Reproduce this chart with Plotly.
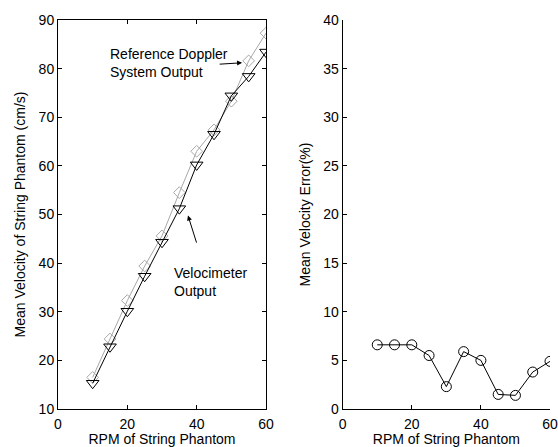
import plotly.graph_objects as go

rpm = [10, 15, 20, 25, 30, 35, 40, 45, 50, 55, 60]
velocimeter = [15.3, 22.8, 30.1, 37.3, 44.3, 51.2, 60.2, 66.5, 74.4, 78.4, 83.4]
reference = [16.5, 24.4, 32.3, 39.4, 45.6, 54.5, 63.0, 67.4, 73.3, 81.6, 87.3]
error_pct = [6.6, 6.6, 6.6, 5.5, 2.3, 5.9, 5.0, 1.5, 1.4, 3.8, 4.9]

FONT = "Liberation Sans, Arial, sans-serif"
FS = 14

fig = go.Figure()
fig.add_trace(go.Scatter(x=rpm, y=reference, mode="lines+markers",
                         line=dict(color="#a8a8a8", width=1),
                         marker=dict(symbol="diamond-open", size=9, color="#a8a8a8", line=dict(width=1)),
                         xaxis="x", yaxis="y", showlegend=False))
fig.add_trace(go.Scatter(x=rpm, y=velocimeter, mode="lines+markers",
                         line=dict(color="black", width=1),
                         marker=dict(symbol="triangle-down-open", size=11, color="black", line=dict(width=1)),
                         xaxis="x", yaxis="y", showlegend=False))
fig.add_trace(go.Scatter(x=rpm, y=error_pct, mode="lines+markers",
                         line=dict(color="black", width=1),
                         marker=dict(symbol="circle-open", size=10, color="black", line=dict(width=1)),
                         xaxis="x2", yaxis="y2", showlegend=False))

axis_common = dict(showgrid=False, zeroline=False, showline=True, linecolor="black", linewidth=1,
                   ticks="inside", ticklen=4, tickcolor="black", automargin=False,
                   tickfont=dict(family=FONT, size=FS, color="black"))

fig.update_layout(
    width=558, height=447,
    margin=dict(l=58, r=8, t=20, b=38),
    paper_bgcolor="white", plot_bgcolor="white",
    font=dict(family=FONT, size=FS, color="black"),
    xaxis=dict(domain=[0, 208 / 492], range=[0, 60], tickvals=[0, 20, 40, 60], mirror="allticks",
               ticklabelstandoff=2,
               title=dict(text="RPM of String Phantom", standoff=5, font=dict(size=FS)), anchor="y", **axis_common),
    yaxis=dict(range=[10, 90], tickvals=[10, 20, 30, 40, 50, 60, 70, 80, 90], mirror="allticks",
               title=dict(text="Mean Velocity of String Phantom (cm/s)", standoff=9, font=dict(size=FS)),
               anchor="x", **axis_common),
    xaxis2=dict(domain=[284.7 / 492, 1], range=[0, 60], tickvals=[0, 20, 40, 60],
                ticklabelstandoff=2,
                title=dict(text="RPM of String Phantom", standoff=5, font=dict(size=FS)), anchor="y2", **axis_common),
    yaxis2=dict(range=[0, 40], tickvals=[0, 5, 10, 15, 20, 25, 30, 35, 40],
                title=dict(text="Mean Velocity Error(%)", standoff=9, font=dict(size=FS)),
                anchor="x2", **axis_common),
)

annotations = [
    dict(x=14.4, y=81.1, xref="x", yref="y", text="Reference Doppler<br>System Output",
         showarrow=False, xanchor="left", yanchor="middle", align="left", font=dict(family=FONT, size=FS)),
    dict(x=53.1, y=81.2, xref="x", yref="y", ax=46.2, ay=80.9, axref="x", ayref="y", text="",
         showarrow=True, arrowhead=2, arrowsize=1, arrowwidth=1, arrowcolor="black"),
    dict(x=32.9, y=36.2, xref="x", yref="y", text="Velocimeter<br>Output",
         showarrow=False, xanchor="left", yanchor="middle", align="left", font=dict(family=FONT, size=FS)),
    dict(x=37.5, y=49.8, xref="x", yref="y", ax=40.1, ay=43.9, axref="x", ayref="y", text="",
         showarrow=True, arrowhead=2, arrowsize=1, arrowwidth=1, arrowcolor="black"),
]
fig.update_layout(annotations=annotations)

fig.write_html("out.html", config={"displayModeBar": False},
               post_script="document.body.style.margin='0';document.body.style.overflow='hidden';")
